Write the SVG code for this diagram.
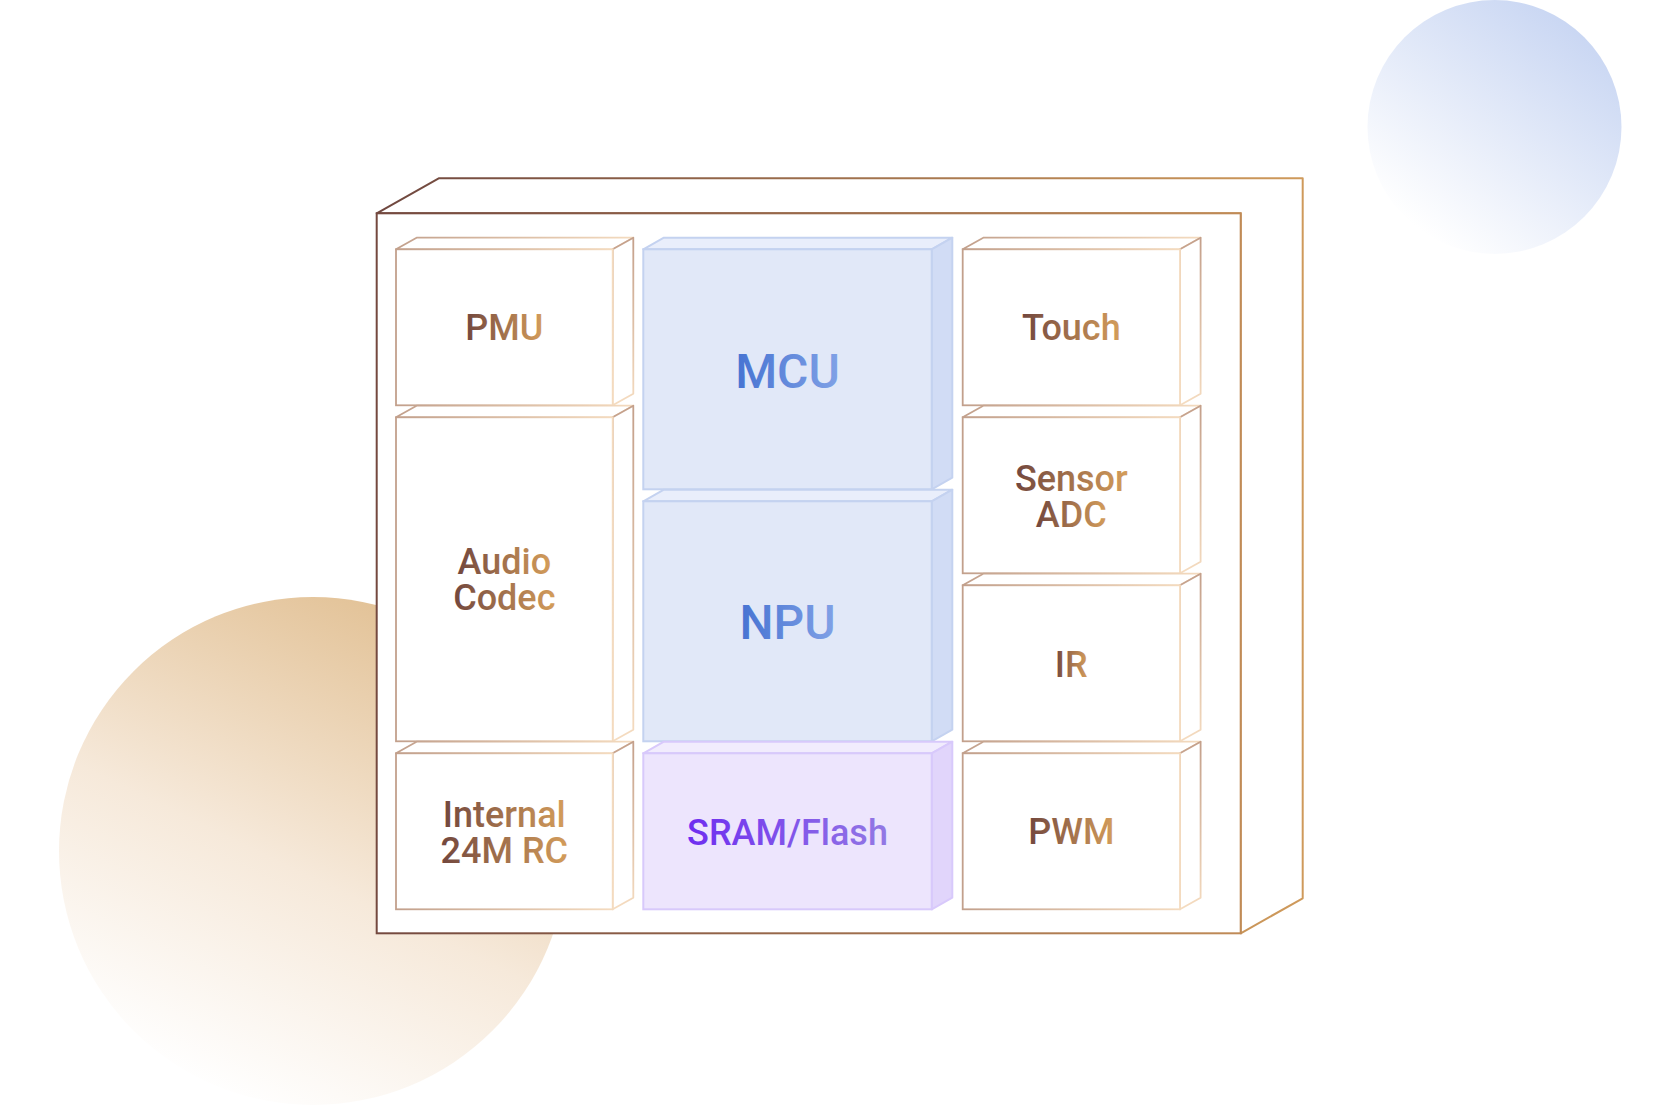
<svg xmlns="http://www.w3.org/2000/svg" width="1680" height="1112" viewBox="0 0 1680 1112">
<defs>
  <linearGradient id="gBlueCircle" x1="0.85" y1="0.05" x2="0.2" y2="0.9">
    <stop offset="0" stop-color="#c6d4f2"/>
    <stop offset="1" stop-color="#ffffff"/>
  </linearGradient>
  <linearGradient id="gTanCircle" x1="0.7" y1="0.02" x2="0.25" y2="0.95">
    <stop offset="0" stop-color="#e2c195"/>
    <stop offset="0.55" stop-color="#f6e9da"/>
    <stop offset="1" stop-color="#ffffff"/>
  </linearGradient>
  <linearGradient id="gOuterFront" gradientUnits="userSpaceOnUse" x1="377" y1="0" x2="1241" y2="0">
    <stop offset="0" stop-color="#74493f"/>
    <stop offset="1" stop-color="#c08b57"/>
  </linearGradient>
  <linearGradient id="gOuterBack" gradientUnits="userSpaceOnUse" x1="377" y1="0" x2="1303" y2="0">
    <stop offset="0" stop-color="#6f473f"/>
    <stop offset="1" stop-color="#cf9a5b"/>
  </linearGradient>
  <linearGradient id="gCellH" x1="0" y1="0" x2="1" y2="0">
    <stop offset="0" stop-color="#c2a08c"/>
    <stop offset="1" stop-color="#f4dbbf"/>
  </linearGradient>
  <linearGradient id="gCellV" x1="0" y1="0" x2="0" y2="1">
    <stop offset="0" stop-color="#c4a08b"/>
    <stop offset="1" stop-color="#f5dcc0"/>
  </linearGradient>
  <linearGradient id="tBrown" x1="0" y1="0" x2="1" y2="0">
    <stop offset="0" stop-color="#72473e"/>
    <stop offset="1" stop-color="#d49d5b"/>
  </linearGradient>
  <linearGradient id="tBlue" x1="0" y1="0" x2="1" y2="0">
    <stop offset="0" stop-color="#4673d2"/>
    <stop offset="1" stop-color="#80a1e6"/>
  </linearGradient>
  <linearGradient id="tPurple" x1="0" y1="0" x2="1" y2="0">
    <stop offset="0" stop-color="#6e2df0"/>
    <stop offset="1" stop-color="#9379e4"/>
  </linearGradient>
</defs>
<style>
  .cellTop { fill: #ffffff; stroke: url(#gCellH); stroke-width: 1.8; stroke-linejoin: round; }
  .cellSide { fill: #ffffff; stroke: url(#gCellV); stroke-width: 1.8; stroke-linejoin: round; }
  .cellFront { fill: #ffffff; stroke: url(#gCellH); stroke-width: 1.8; }
  .blueTop { fill: #e9eefb; stroke: #c4d2f0; stroke-width: 2; stroke-linejoin: round; }
  .blueSide { fill: #d1dcf5; stroke: #c4d2f0; stroke-width: 2; stroke-linejoin: round; }
  .blueFront { fill: #e1e8f8; stroke: #c4d2f0; stroke-width: 2; }
  .purpTop { fill: #f1ecfd; stroke: #d8c9fb; stroke-width: 2; stroke-linejoin: round; }
  .purpSide { fill: #e1d5fb; stroke: #d8c9fb; stroke-width: 2; stroke-linejoin: round; }
  .purpFront { fill: #ede5fd; stroke: #d8c9fb; stroke-width: 2; }
  .lbl { font-family: Roboto, "Liberation Sans", sans-serif; font-weight: 500; font-size: 36px; text-anchor: middle; fill: url(#tBrown); }
  .big { font-size: 48px; fill: url(#tBlue); }
  .purp { fill: url(#tPurple); }
</style>

<rect width="1680" height="1112" fill="#ffffff"/>

<g id="background">
  <circle cx="1494.5" cy="127" r="127" fill="url(#gBlueCircle)"/>
  <circle cx="313" cy="851" r="254" fill="url(#gTanCircle)"/>
</g>

<g id="chip">
  <path d="M376.7,213.3 L438.7,178.3 L1302.7,178.3 L1302.7,898.3 L1240.7,933.3 L1240.7,213.3 Z" fill="#ffffff" stroke="url(#gOuterBack)" stroke-width="2" stroke-linejoin="round"/>
  <rect x="376.7" y="213.3" width="864" height="720" fill="#ffffff" stroke="url(#gOuterFront)" stroke-width="2"/>
</g>

<g id="pmu">
  <path class="cellTop" d="M396,249.3 L416.6,237.7 L633.3,237.7 L612.7,249.3 Z"/>
  <path class="cellSide" d="M612.7,249.3 L633.3,237.7 L633.3,393.7 L612.7,405.3 Z"/>
  <rect class="cellFront" x="396" y="249.3" width="216.7" height="156"/>
  <text class="lbl" x="504.3" y="340.1">PMU</text>
</g>

<g id="audio-codec">
  <path class="cellTop" d="M396,417.3 L416.6,405.7 L633.3,405.7 L612.7,417.3 Z"/>
  <path class="cellSide" d="M612.7,417.3 L633.3,405.7 L633.3,729.7 L612.7,741.3 Z"/>
  <rect class="cellFront" x="396" y="417.3" width="216.7" height="324"/>
  <text class="lbl" x="504.3" y="574.3">Audio</text>
  <text class="lbl" x="504.3" y="610.3">Codec</text>
</g>

<g id="internal-rc">
  <path class="cellTop" d="M396,753.3 L416.6,741.7 L633.3,741.7 L612.7,753.3 Z"/>
  <path class="cellSide" d="M612.7,753.3 L633.3,741.7 L633.3,897.7 L612.7,909.3 Z"/>
  <rect class="cellFront" x="396" y="753.3" width="216.7" height="156"/>
  <text class="lbl" x="504.3" y="827.3">Internal</text>
  <text class="lbl" x="504.3" y="863.3">24M RC</text>
</g>

<g id="mcu">
  <path class="blueTop" d="M643.3,249.3 L663.9,237.7 L952.3,237.7 L931.7,249.3 Z"/>
  <path class="blueSide" d="M931.7,249.3 L952.3,237.7 L952.3,477.7 L931.7,489.3 Z"/>
  <rect class="blueFront" x="643.3" y="249.3" width="288.4" height="240"/>
  <text class="lbl big" x="787.5" y="387.7">MCU</text>
</g>

<g id="npu">
  <path class="blueTop" d="M643.3,501.3 L663.9,489.7 L952.3,489.7 L931.7,501.3 Z"/>
  <path class="blueSide" d="M931.7,501.3 L952.3,489.7 L952.3,729.7 L931.7,741.3 Z"/>
  <rect class="blueFront" x="643.3" y="501.3" width="288.4" height="240"/>
  <text class="lbl big" x="787.5" y="639">NPU</text>
</g>

<g id="sram-flash">
  <path class="purpTop" d="M643.3,753.3 L663.9,741.7 L952.3,741.7 L931.7,753.3 Z"/>
  <path class="purpSide" d="M931.7,753.3 L952.3,741.7 L952.3,897.7 L931.7,909.3 Z"/>
  <rect class="purpFront" x="643.3" y="753.3" width="288.4" height="156"/>
  <text class="lbl purp" x="787.5" y="844.5">SRAM/Flash</text>
</g>

<g id="touch">
  <path class="cellTop" d="M962.7,249.3 L983.3,237.7 L1200.6,237.7 L1180,249.3 Z"/>
  <path class="cellSide" d="M1180,249.3 L1200.6,237.7 L1200.6,393.7 L1180,405.3 Z"/>
  <rect class="cellFront" x="962.7" y="249.3" width="217.3" height="156"/>
  <text class="lbl" x="1071.3" y="340.1">Touch</text>
</g>

<g id="sensor-adc">
  <path class="cellTop" d="M962.7,417.3 L983.3,405.7 L1200.6,405.7 L1180,417.3 Z"/>
  <path class="cellSide" d="M1180,417.3 L1200.6,405.7 L1200.6,561.7 L1180,573.3 Z"/>
  <rect class="cellFront" x="962.7" y="417.3" width="217.3" height="156"/>
  <text class="lbl" x="1071.3" y="490.7">Sensor</text>
  <text class="lbl" x="1071.3" y="526.7">ADC</text>
</g>

<g id="ir">
  <path class="cellTop" d="M962.7,585.3 L983.3,573.7 L1200.6,573.7 L1180,585.3 Z"/>
  <path class="cellSide" d="M1180,585.3 L1200.6,573.7 L1200.6,729.7 L1180,741.3 Z"/>
  <rect class="cellFront" x="962.7" y="585.3" width="217.3" height="156"/>
  <text class="lbl" x="1071.3" y="676.7">IR</text>
</g>

<g id="pwm">
  <path class="cellTop" d="M962.7,753.3 L983.3,741.7 L1200.6,741.7 L1180,753.3 Z"/>
  <path class="cellSide" d="M1180,753.3 L1200.6,741.7 L1200.6,897.7 L1180,909.3 Z"/>
  <rect class="cellFront" x="962.7" y="753.3" width="217.3" height="156"/>
  <text class="lbl" x="1071.3" y="844.3">PWM</text>
</g>
</svg>
